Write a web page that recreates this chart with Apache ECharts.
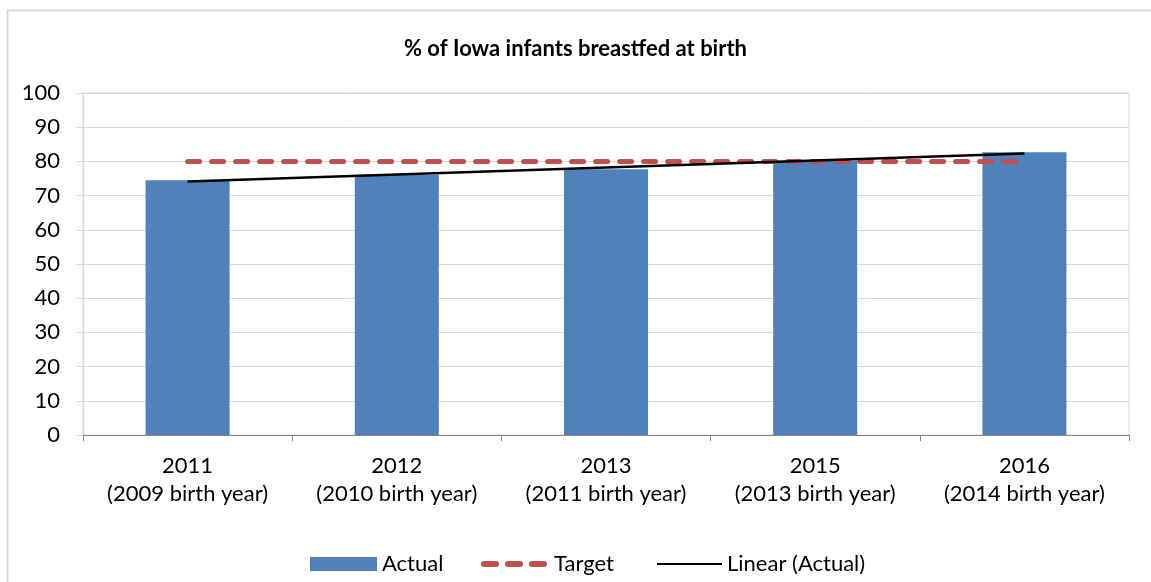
<!DOCTYPE html>
<html>
<head>
<meta charset="utf-8">
<title>% of Iowa infants breastfed at birth</title>
<script src="https://cdn.jsdelivr.net/npm/echarts@6/dist/echarts.min.js"></script>
<style>
  html, body { margin: 0; padding: 0; background: #fff; }
  #chart { width: 1151px; height: 582px; }
</style>
</head>
<body>
<div id="chart"></div>
<script>
// Survey year (birth year) categories
const categories = [
  '2011\n(2009 birth year)',
  '2012\n(2010 birth year)',
  '2013\n(2011 birth year)',
  '2015\n(2013 birth year)',
  '2016\n(2014 birth year)'
];
// Percent breastfed at birth
const actual = [74.5, 76.1, 77.7, 80.2, 82.7];
// Goal
const target = [80, 80, 80, 80, 80];
const yTicks = { min: 0, max: 100, interval: 10 };

// Least-squares trend through the actual values
function linearTrend(values) {
  const n = values.length;
  let sx = 0, sy = 0, sxy = 0, sxx = 0;
  values.forEach((v, i) => { sx += i; sy += v; sxy += i * v; sxx += i * i; });
  const slope = (n * sxy - sx * sy) / (n * sxx - sx * sx);
  const intercept = (sy - slope * sx) / n;
  return values.map((_, i) => +(intercept + slope * i).toFixed(3));
}
const trend = linearTrend(actual);

const FONT = 'Lato, "Open Sans", sans-serif';
const TEXT = { fontFamily: FONT, fontSize: 22, color: '#000' };
// three rounded dashes for the target key
const DASH_ICON = 'path://M3,0H15A3,3 0 0 1 15,6H3A3,3 0 0 1 3,0Z' +
  'M27,0H39A3,3 0 0 1 39,6H27A3,3 0 0 1 27,0Z' +
  'M51,0H63A3,3 0 0 1 63,6H51A3,3 0 0 1 51,0Z';

const chart = echarts.init(document.getElementById('chart'), null, { renderer: 'canvas' });

chart.setOption({
  backgroundColor: '#ffffff',
  animation: false,
  textStyle: { fontFamily: FONT, color: '#000' },
  title: {
    text: '% of Iowa infants breastfed at birth',
    left: 'center',
    top: 33,
    textStyle: { fontFamily: FONT, fontSize: 22, fontWeight: 'bold', color: '#000' }
  },
  graphic: [{
    type: 'rect',
    shape: { x: 7.5, y: 10.5, width: 1200, height: 700 },
    style: { fill: 'none', stroke: '#D9D9D9', lineWidth: 2 },
    silent: true,
    z: -1
  }],
  grid: {
    left: 83, right: 22, top: 93, bottom: 147,
    show: true, borderColor: '#D9D9D9', borderWidth: 1
  },
  legend: [
    {
      left: 305, top: 548,
      itemWidth: 67, itemHeight: 14,
      textStyle: TEXT,
      data: [{ name: 'Actual', icon: 'rect' }]
    },
    {
      left: 476, top: 548,
      itemWidth: 70, itemHeight: 6,
      textStyle: TEXT,
      data: [{ name: 'Target', icon: DASH_ICON, itemStyle: { color: '#C0504D', borderWidth: 0 } }]
    },
    {
      left: 652, top: 548,
      itemWidth: 65, itemHeight: 2,
      textStyle: TEXT,
      data: [{ name: 'Linear (Actual)', icon: 'rect', itemStyle: { color: '#000', borderWidth: 0 } }]
    }
  ],
  xAxis: {
    type: 'category',
    data: categories,
    boundaryGap: true,
    axisLine: { lineStyle: { color: '#868686', width: 1 } },
    axisTick: { show: true, length: 6, lineStyle: { color: '#868686' } },
    axisLabel: {
      margin: 17,
      fontFamily: FONT, fontSize: 22, color: '#000', lineHeight: 28,
      interval: 0
    },
    splitLine: { show: false }
  },
  yAxis: {
    type: 'value',
    min: yTicks.min, max: yTicks.max, interval: yTicks.interval,
    axisLine: { show: true, lineStyle: { color: '#D9D9D9' } },
    axisTick: { show: true, length: 7, lineStyle: { color: '#D9D9D9' } },
    axisLabel: { margin: 23, fontFamily: FONT, fontSize: 22, color: '#000' },
    splitLine: { lineStyle: { color: '#D9D9D9', width: 1 } }
  },
  series: [
    {
      name: 'Actual',
      type: 'bar',
      data: actual,
      barWidth: 84,
      itemStyle: { color: '#4F81BD' },
      z: 1
    },
    {
      name: 'Target',
      type: 'line',
      data: target,
      symbol: 'none',
      lineStyle: { color: '#C0504D', width: 5, type: [12, 12], cap: 'round' },
      itemStyle: { color: '#C0504D' },
      z: 3
    },
    {
      name: 'Linear (Actual)',
      type: 'line',
      data: trend,
      symbol: 'none',
      lineStyle: { color: '#000', width: 2.5 },
      itemStyle: { color: '#000' },
      z: 4
    }
  ]
});
</script>
</body>
</html>
